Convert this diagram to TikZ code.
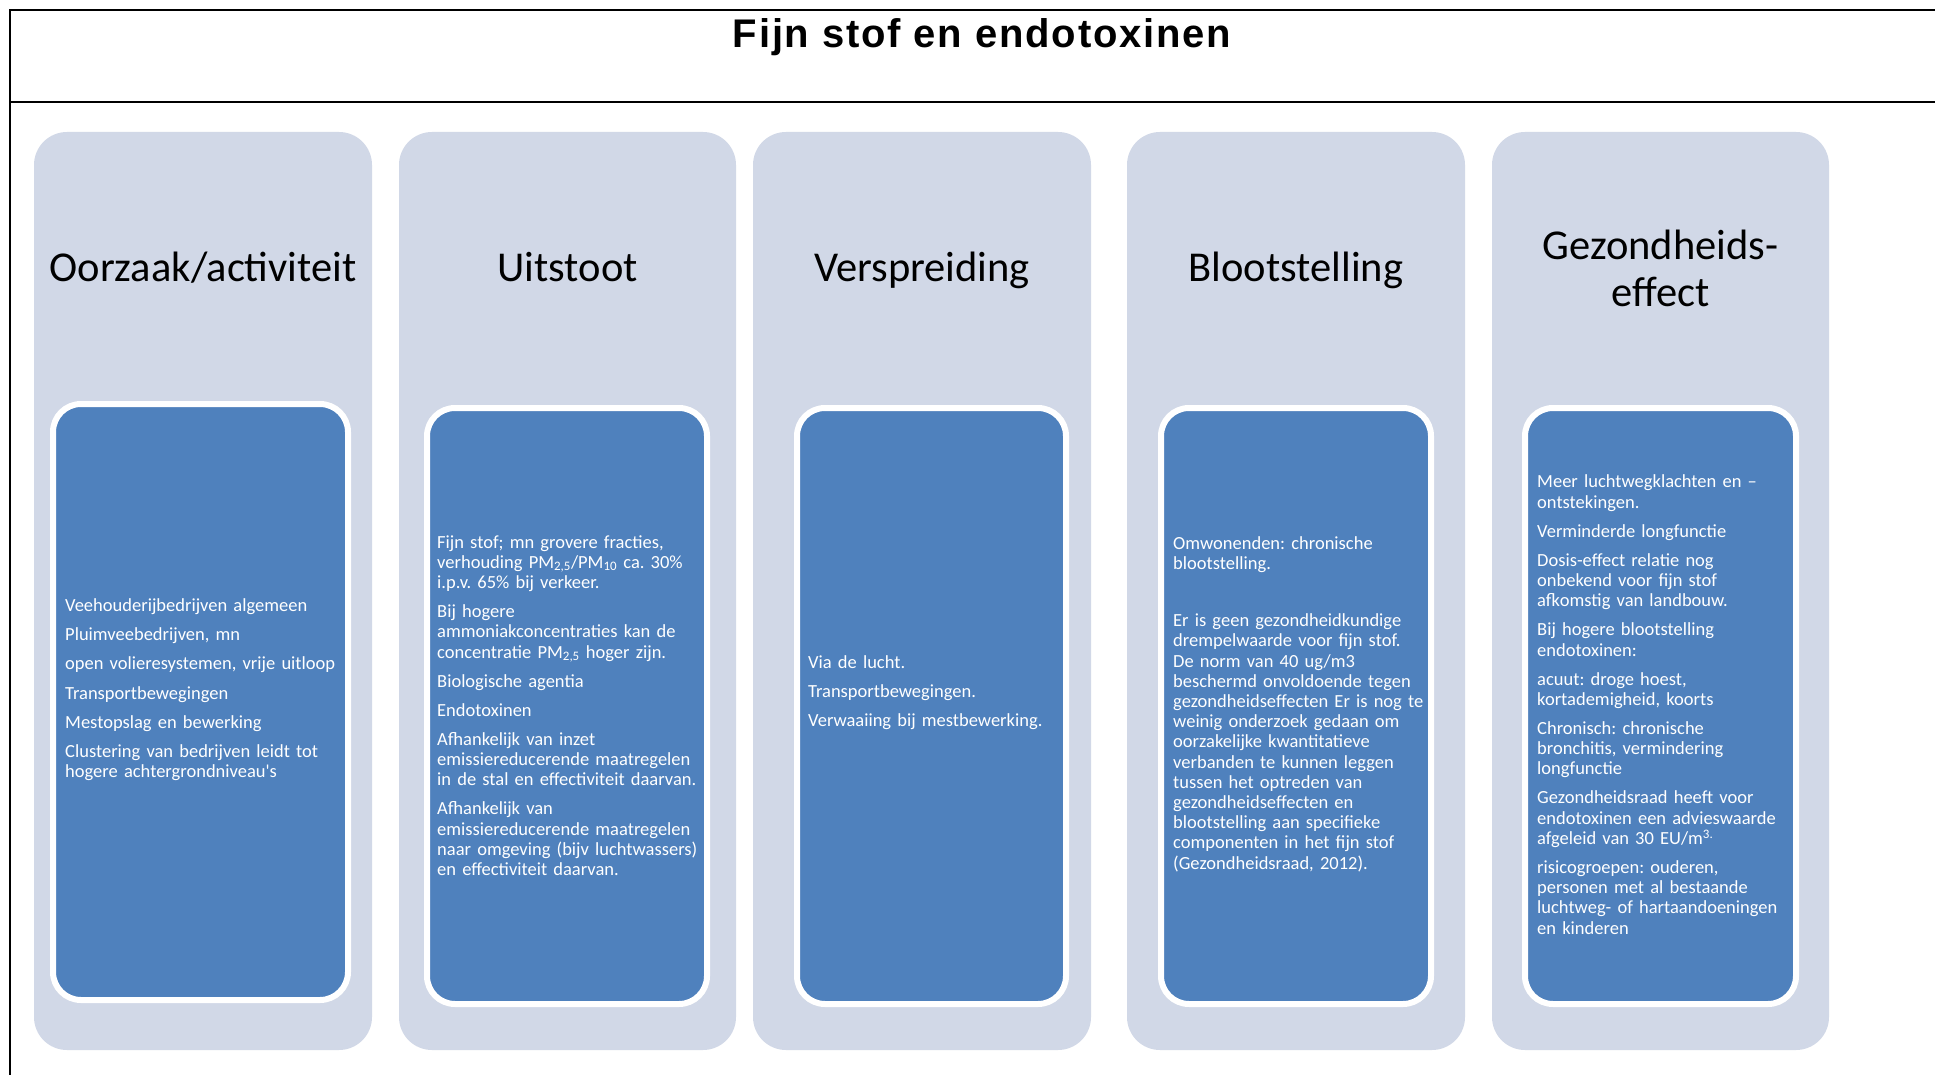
\documentclass[tikz,border=0pt]{standalone}
\usepackage{fontspec}
\setmainfont{Carlito}
\newfontfamily\titlefont[LetterSpace=4.5]{Liberation Sans}
\definecolor{colbg}{HTML}{D1D8E7}
\definecolor{boxblue}{HTML}{4F81BD}
\newcommand{\fl}{\rule{0pt}{17pt}}
\newcommand{\pg}{\\[8.9pt]}
\frenchspacing
\begin{document}
\begin{tikzpicture}[x=1pt,y=-1pt,
  colbox/.style={fill=colbg, draw=none, rounded corners=33pt, inner sep=0pt},
  innerbox/.style={fill=boxblue, draw=white, line width=6pt, rounded corners=28pt, inner sep=0pt},
  head/.style={font=\fontsize{42.5}{47}\selectfont, text=black, align=center, inner sep=0pt, anchor=north},
  body/.style={font=\fontsize{18.5}{20.2}\selectfont, text=white, align=left, text width=285pt, inner sep=0pt, anchor=north west},
  frameline/.style={line width=2pt, black}]
\useasboundingbox (0,0) rectangle (1935,1075);
\fill[white] (0,0) rectangle (1935,1075);
\draw[frameline] (1935,10) -- (10,10) -- (10,1075);
\draw[frameline] (10,102) -- (1935,102);
\node[anchor=base, inner sep=0pt, font=\titlefont\bfseries\fontsize{40}{44}\selectfont] (title) at (982,48) {Fijn stof en endotoxinen};
% columns
\node[colbox, minimum width=338pt, minimum height=918pt] (c1) at (203,591) {};
\node[colbox, minimum width=337pt, minimum height=918pt] (c2) at (567.5,591) {};
\node[colbox, minimum width=338pt, minimum height=918pt] (c3) at (922,591) {};
\node[colbox, minimum width=338pt, minimum height=918pt] (c4) at (1296,591) {};
\node[colbox, minimum width=337pt, minimum height=918pt] (c5) at (1660.5,591) {};
% headings
\node[head] (h1) at (203,246) {\rule{0pt}{35pt}Oorzaak/activiteit};
\node[head] (h2) at (567.5,246) {\rule{0pt}{35pt}Uitstoot};
\node[head] (h3) at (922,246) {\rule{0pt}{35pt}Verspreiding};
\node[head] (h4) at (1296,246) {\rule{0pt}{35pt}Blootstelling};
\node[head] (h5) at (1660.5,224) {\rule{0pt}{35pt}Gezondheids-\\effect};
% inner boxes
\node[innerbox, minimum width=295pt, minimum height=596pt] (b1) at (200.5,702) {};
\node[innerbox, minimum width=280pt, minimum height=596pt] (b2) at (567,706) {};
\node[innerbox, minimum width=269pt, minimum height=596pt] (b3) at (931.5,706) {};
\node[innerbox, minimum width=270pt, minimum height=596pt] (b4) at (1296,706) {};
\node[innerbox, minimum width=271pt, minimum height=596pt] (b5) at (1660.5,706) {};
% texts
\node[body] (t1) at (65,594.5) {\fl Veehouderijbedrijven algemeen\pg
Pluimveebedrijven, mn\pg
open volieresystemen, vrije uitloop\pg
Transportbewegingen\pg
Mestopslag en bewerking\pg
Clustering van bedrijven leidt tot\\
hogere achtergrondniveau\textquotesingle s};
\node[body] (t2) at (437,531) {\fl Fijn stof; mn grovere fracties,\\
verhouding PM\textsubscript{2,5}/PM\textsubscript{10} ca. 30\%\\
i.p.v. 65\% bij verkeer.\pg
Bij hogere\\
ammoniakconcentraties kan de\\
concentratie PM\textsubscript{2,5} hoger zijn.\pg
Biologische agentia\pg
Endotoxinen\pg
Afhankelijk van inzet\\
emissiereducerende maatregelen\\
in de stal en effectiviteit daarvan.\pg
Afhankelijk van\\
emissiereducerende maatregelen\\
naar omgeving (bijv luchtwassers)\\
en effectiviteit daarvan.};
\node[body] (t3) at (808,651) {\fl Via de lucht.\pg
Transportbewegingen.\pg
Verwaaiing bij mestbewerking.};
\node[body] (t4) at (1173,532.4) {\fl Omwonenden: chronische\\
blootstelling.\\[36.6pt]
Er is geen gezondheidkundige\\
drempelwaarde voor fijn stof.\\
De norm van 40 ug/m3\\
beschermd onvoldoende tegen\\
gezondheidseffecten Er is nog te\\
weinig onderzoek gedaan om\\
oorzakelijke kwantitatieve\\
verbanden te kunnen leggen\\
tussen het optreden van\\
gezondheidseffecten en\\
blootstelling aan specifieke\\
componenten in het fijn stof\\
(Gezondheidsraad, 2012).};
\node[body] (t5) at (1537,470.7) {\fl Meer luchtwegklachten en --\\
ontstekingen.\pg
Verminderde longfunctie\pg
Dosis-effect relatie nog\\
onbekend voor fijn stof\\
afkomstig van landbouw.\pg
Bij hogere blootstelling\\
endotoxinen:\pg
acuut: droge hoest,\\
kortademigheid, koorts\pg
Chronisch: chronische\\
bronchitis, vermindering\\
longfunctie\pg
Gezondheidsraad heeft voor\\
endotoxinen een advieswaarde\\
afgeleid van 30 EU/m\textsuperscript{3.}\pg
risicogroepen: ouderen,\\
personen met al bestaande\\
luchtweg- of hartaandoeningen\\
en kinderen};
\end{tikzpicture}
\end{document}
